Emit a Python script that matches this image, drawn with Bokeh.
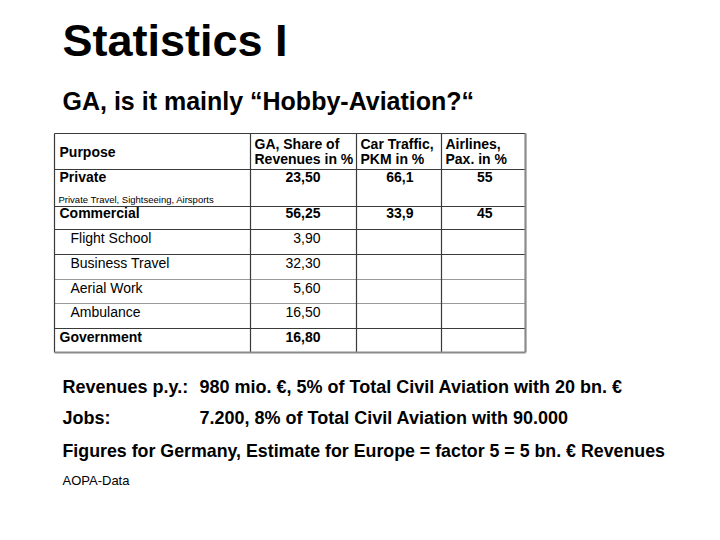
from bokeh.plotting import figure
from bokeh.models import Range1d, ColumnDataSource
from bokeh.core.properties import value
from bokeh.embed import file_html
from bokeh.resources import INLINE

# ---------------- data ----------------
title = "Statistics I"
subtitle = "GA, is it mainly \u201cHobby-Aviation?\u201c"
col_headers = [["Purpose"], ["GA, Share of", "Revenues in %"], ["Car Traffic,", "PKM in %"], ["Airlines,", "Pax. in %"]]
purposes = ["Private", "Commercial", "Flight School", "Business Travel", "Aerial Work", "Ambulance", "Government"]
is_main = [True, True, False, False, False, False, True]
ga_share = [23.50, 56.25, 3.90, 32.30, 5.60, 16.50, 16.80]
car_traffic = [66.1, 33.9, None, None, None, None, None]
airlines = [55, 45, None, None, None, None, None]
private_note = "Private Travel, Sightseeing, Airsports"
footer_labels = ["Revenues p.y.:", "Jobs:"]
footer_values = ["980 mio. \u20ac, 5% of Total Civil Aviation with 20 bn. \u20ac",
                 "7.200, 8% of Total Civil Aviation with 90.000"]
summary = "Figures for Germany, Estimate for Europe = factor 5 = 5 bn. \u20ac Revenues"
source_note = "AOPA-Data"

# ---------------- layout ----------------
FONT = value("Liberation Sans")
col_x = [54, 250, 356, 441, 525]
row_y = [133, 169, 206, 229, 254, 279, 303, 328, 352]
row_base = [182, 218, 243, 268, 293, 317, 342]

p = figure(width=704, height=524, output_backend="svg", toolbar_location=None,
           x_range=Range1d(0, 704), y_range=Range1d(524, 0),
           min_border=0, outline_line_color=None, background_fill_color="white",
           border_fill_color="white")
p.xaxis.visible = False
p.yaxis.visible = False
p.grid.visible = False


def txt(xs, ys, texts, size, style="bold", align="left", color="black"):
    # ys are the wanted visual baselines; compensate the renderer's baseline offset
    off = 0.4 * size
    src = ColumnDataSource(dict(x=xs, y=[y - off for y in ys], t=texts))
    p.text(x="x", y="y", text="t", source=src, text_font=FONT, text_font_size=f"{size}px",
           text_font_style=style, text_align=align, text_baseline="alphabetic",
           text_color=color)


# title
txt([62], [58], [title], 45)
txt([62], [110], [subtitle], 25)

# table lines
dark = [row_y[0], row_y[1], row_y[2], row_y[3], row_y[4], row_y[7]]
light = [row_y[5], row_y[6]]
p.segment(x0=[col_x[0]] * len(dark), x1=[col_x[-1]] * len(dark), y0=dark, y1=dark,
          line_color="#3a3a3a", line_width=1.2)
p.segment(x0=[col_x[0]] * len(light), x1=[col_x[-1]] * len(light), y0=light, y1=light,
          line_color="#9a9a9a", line_width=1.2)
p.segment(x0=col_x[:-1], x1=col_x[:-1], y0=[row_y[0]] * 4, y1=[row_y[-1]] * 4,
          line_color="#3a3a3a", line_width=1.2)
# shadowed right and bottom borders
p.segment(x0=[col_x[-1], col_x[0]], x1=[col_x[-1], col_x[-1]],
          y0=[row_y[0], row_y[-1]], y1=[row_y[-1], row_y[-1]],
          line_color="#8a8a8a", line_width=2.2)

# headers
hx = [59, 254, 360, 445]
txt([hx[0]], [157], col_headers[0], 14)
for i in range(1, 4):
    txt([hx[i]] * len(col_headers[i]), [149, 164], col_headers[i], 14)

# rows
for i, name in enumerate(purposes):
    style = "bold" if is_main[i] else "normal"
    x0 = 59 if is_main[i] else 70
    txt([x0], [row_base[i]], [name], 14, style)
    txt([320], [row_base[i]], [f"{ga_share[i]:.2f}".replace(".", ",")], 14, style, "right")
    if car_traffic[i] is not None:
        txt([413], [row_base[i]], [f"{car_traffic[i]:.1f}".replace(".", ",")], 14, style, "right")
    if airlines[i] is not None:
        txt([492], [row_base[i]], [str(airlines[i])], 14, style, "right")

txt([58], [203], [private_note], 9.5, "normal")

# footer
txt([62, 62], [394, 425], footer_labels, 18)
txt([199, 199], [394, 425], footer_values, 18)
txt([62], [458], [summary], 17.8)
txt([62], [485], [source_note], 13, "normal")

open("out.html", "w").write(file_html(p, INLINE))
